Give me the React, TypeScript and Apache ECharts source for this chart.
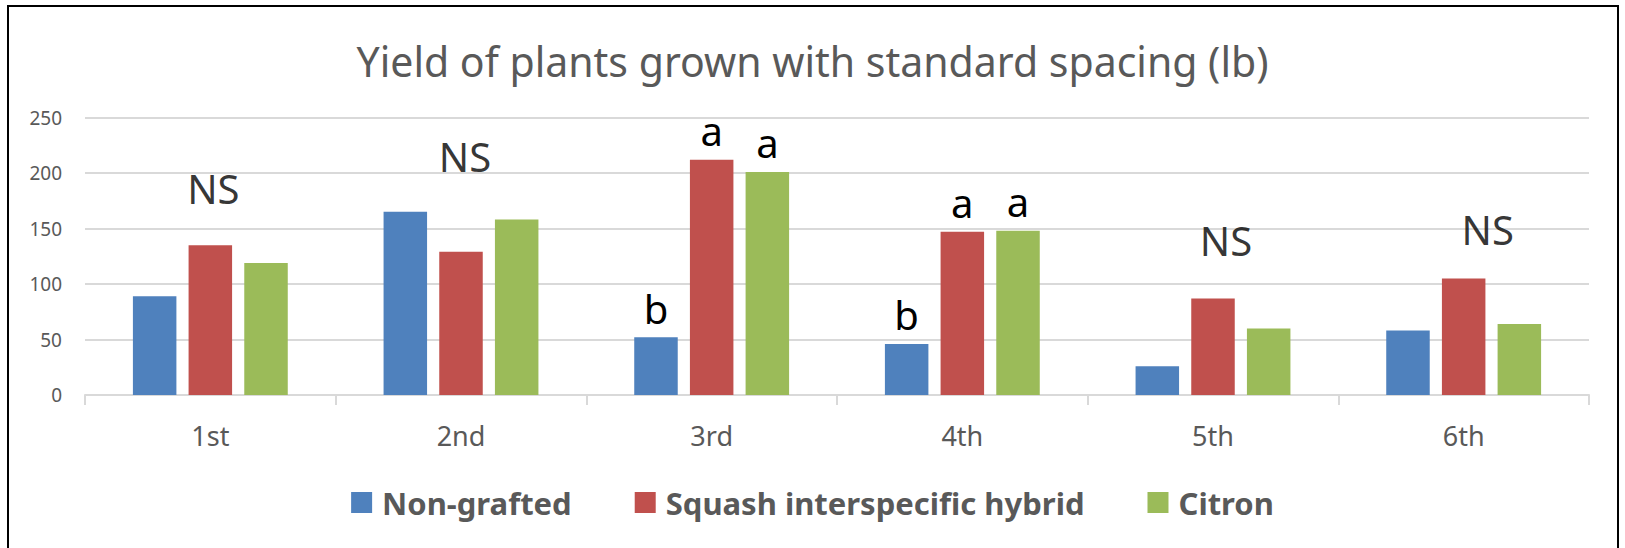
import React, { useEffect, useRef } from "react";
import * as echarts from "echarts";

const categories = ["1st", "2nd", "3rd", "4th", "5th", "6th"];
const seriesNames = ["Non-grafted", "Squash interspecific hybrid", "Citron"];
const nonGrafted = [89, 165, 52, 46, 26, 58];
const squashHybrid = [135, 129, 212, 147, 87, 105];
const citron = [119, 158, 201, 148, 60, 64];
const nonGraftedLetters = ["", "", "b", "b", "", ""];
const squashLetters = ["", "", "a", "a", "", ""];
const citronLetters = ["", "", "a", "a", "", ""];
// height (lb) at which the "NS" note sits for each harvest, null = none
const nsLevels: (number | null)[] = [186, 215, null, null, 139, 149];
const yMin = 0;
const yMax = 250;
const yStep = 50;

const FONT = "'Noto Sans', 'Open Sans', sans-serif";
const GRAY = "#595959";
const COLORS = ["#4f81bd", "#c0504d", "#9bbb59"];
const nsShift = [3, 4, 0, 0, 13, 24];

export default function App() {
  const ref = useRef<HTMLDivElement>(null);
  useEffect(() => {
    if (!ref.current) return;
    const chart = echarts.init(ref.current, null, { renderer: "svg" });
    const values = [nonGrafted, squashHybrid, citron];
    const letters = [nonGraftedLetters, squashLetters, citronLetters];
    const barSeries = seriesNames.map((name, s) => ({
      name,
      type: "bar",
      data: values[s],
      barWidth: 43.5,
      barGap: "28%",
      itemStyle: { color: COLORS[s] },
      label: {
        show: true,
        position: "top",
        distance: 9,
        formatter: (p: any) => letters[s][p.dataIndex],
        fontSize: 40,
        fontFamily: FONT,
        color: "#000",
      },
    }));
    const nsData: any[] = [];
    nsLevels.forEach((v, i) => {
      if (v !== null) {
        nsData.push({ value: [i, v], label: { offset: [nsShift[i], 0] } });
      }
    });
    chart.setOption({
      animation: false,
      backgroundColor: "#fff",
      title: {
        text: "Yield of plants grown with standard spacing (lb)",
        left: "center",
        top: 35,
        textStyle: {
          fontFamily: FONT,
          fontSize: 41,
          fontWeight: "normal",
          color: GRAY,
        },
      },
      graphic: [
        {
          type: "rect",
          shape: { x: 8, y: 6, width: 1610, height: 600 },
          style: { fill: "none", stroke: "#000", lineWidth: 2 },
          silent: true,
        },
      ],
      grid: { left: 85, right: 36, top: 117.5, bottom: 153, containLabel: false },
      legend: {
        data: seriesNames,
        left: "center",
        top: 482,
        itemWidth: 21,
        itemHeight: 21,
        itemGap: 63,
        icon: "rect",
        textStyle: {
          fontFamily: FONT,
          fontSize: 31,
          fontWeight: "bold",
          color: GRAY,
          padding: [0, 0, 0, 5],
        },
      },
      xAxis: {
        type: "category",
        data: categories,
        axisLine: { show: true, lineStyle: { color: "#d9d9d9", width: 2 } },
        axisTick: { show: true, length: 10, lineStyle: { color: "#d9d9d9", width: 2 } },
        axisLabel: { fontFamily: FONT, fontSize: 27, color: GRAY, margin: 27 },
        splitLine: { show: false },
      },
      yAxis: {
        type: "value",
        min: yMin,
        max: yMax,
        interval: yStep,
        axisLine: { show: false },
        axisTick: { show: false },
        axisLabel: { fontFamily: FONT, fontSize: 19, color: GRAY, margin: 23 },
        splitLine: { lineStyle: { color: "#d9d9d9", width: 2 } },
      },
      series: [
        ...barSeries,
        {
          name: "NS",
          type: "scatter",
          data: nsData,
          symbolSize: 0,
          silent: true,
          label: {
            show: true,
            position: "inside",
            formatter: "NS",
            fontSize: 40,
            fontFamily: FONT,
            color: "#000",
          },
        },
      ],
    });
    return () => chart.dispose();
  }, []);
  return (
    <div
      ref={ref}
      style={{ position: "absolute", left: 0, top: 0, width: 1625, height: 548 }}
    />
  );
}
